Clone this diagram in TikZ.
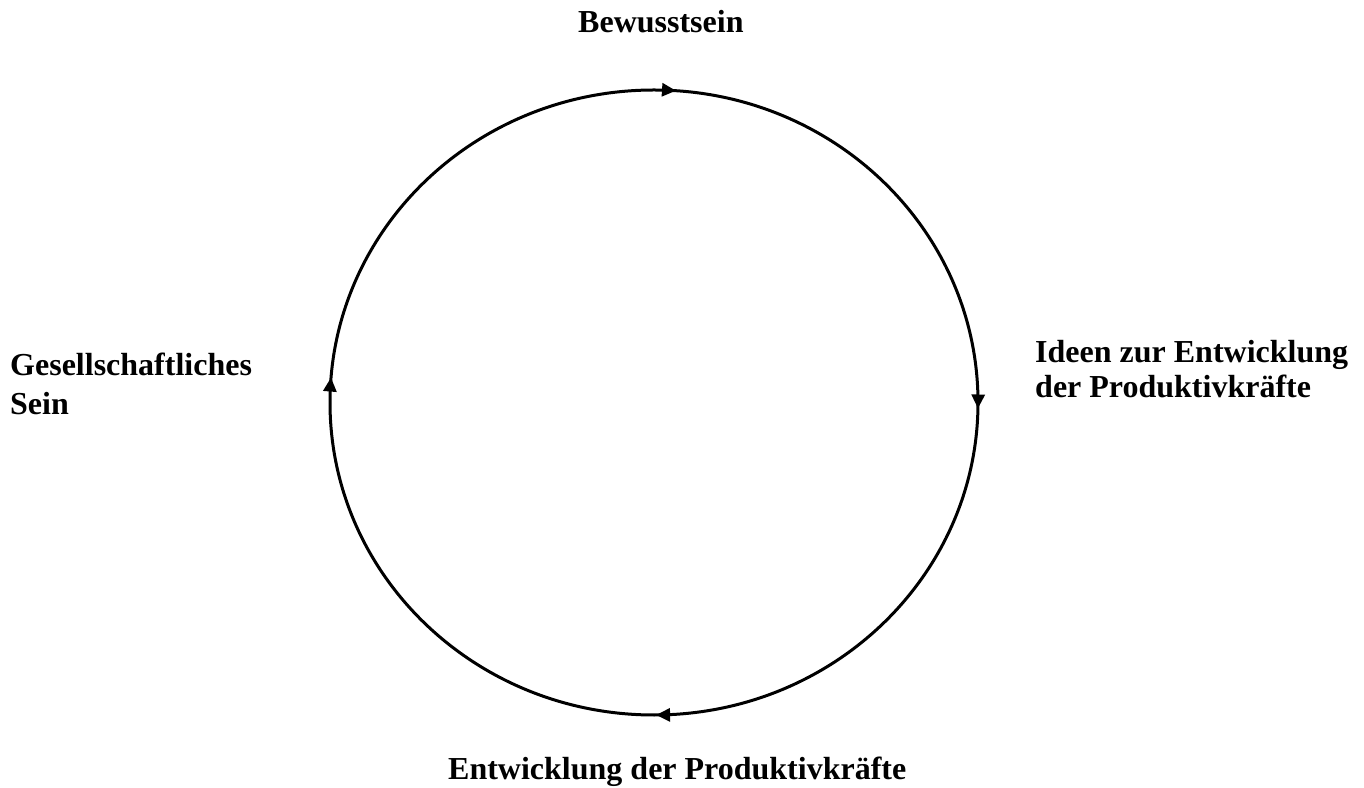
\documentclass[tikz,border=0pt]{standalone}
\usepackage{fontspec}
\setmainfont{Liberation Serif}
\usetikzlibrary{arrows.meta,decorations.markings}
\tikzset{
    every node/.style={inner sep=0pt, font=\fontsize{32}{35}\selectfont\bfseries, align=left, anchor=base west},
    kreis/.style={line width=3pt, postaction={decorate}, decoration={markings,
        mark=at position 0.003 with {\arrow{tip}},
        mark=at position 0.249 with {\arrow{tip}},
        mark=at position 0.5125 with {\arrow{tip}},
        mark=at position 0.761 with {\arrow{tip}}}},
    tip/.tip={Triangle[length=14pt, width=13pt]}
}
\begin{document}
\begin{tikzpicture}[x=1pt, y=1pt]
    \useasboundingbox (0,0) rectangle (1364,787);

    \node (bew) at (578, 754) {Bewusstsein};
    \node (ideen) at (1035, 389) {Ideen zur Entwicklung\\der Produktivkräfte};
    \node (entw) at (448, 8) {Entwicklung der Produktivkräfte};
    \node (sein) [font=\fontsize{32}{39}\selectfont\bfseries] at (10, 372) {Gesellschaftliches\\Sein};

    \coordinate (start) at (978, 384.5);
    \draw [kreis] (start) arc [start angle=0, end angle=-360, x radius=324, y radius=312.5];
\end{tikzpicture}
\end{document}
